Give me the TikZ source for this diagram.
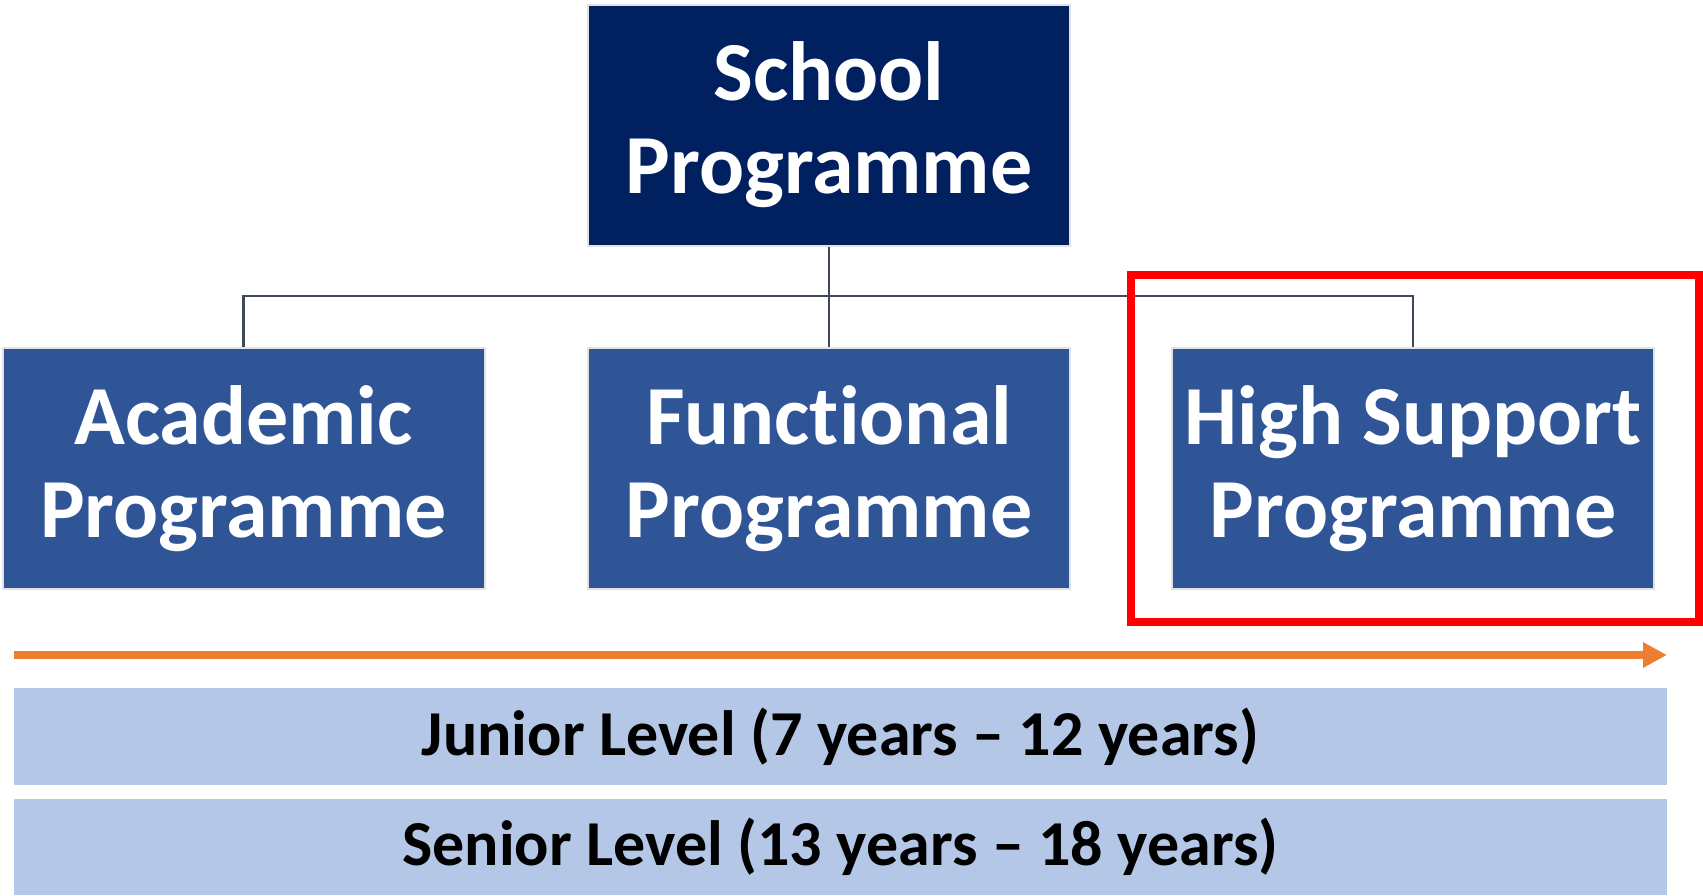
\documentclass[tikz,border=0pt]{standalone}
\usepackage{fontspec}
\setmainfont{Carlito}[Ligatures=NoCommon]
\usetikzlibrary{arrows.meta}

\definecolor{navy}{HTML}{002060}
\definecolor{progblue}{HTML}{2F5597}
\definecolor{levelblue}{HTML}{B4C7E7}
\definecolor{linkgray}{HTML}{3E4A5C}
\definecolor{timeorange}{HTML}{ED7D31}
\definecolor{boxedge}{HTML}{E2E2E2}

\tikzset{
  progbox/.style={draw=boxedge, line width=1pt, fill=progblue, text=white,
    minimum width=241pt, minimum height=120.5pt, inner sep=0pt,
    align=center, font=\bfseries\fontsize{42}{46.5}\selectfont},
  topbox/.style={progbox, fill=navy},
  levelbar/.style={fill=levelblue, minimum width=826.5pt, inner sep=0pt,
    font=\bfseries\fontsize{32}{38}\selectfont},
  link/.style={draw=linkgray, line width=1.25pt},
  timeline/.style={draw=timeorange, line width=4pt,
    -{Triangle[length=12pt,width=12pt]}},
  highlight/.style={draw=red, line width=4pt, minimum width=284pt,
    minimum height=173.5pt, inner sep=0pt}
}

\begin{document}
\begin{tikzpicture}[x=0.5pt,y=-0.5pt]
  \useasboundingbox (0,0) rectangle (1703,895);

  % programme hierarchy
  \node[topbox]  (school)     at (829,125)   {School\\Programme};
  \node[progbox] (academic)   at (243.5,468.5) {Academic\\Programme};
  % the kern keeps t and i as separate glyphs
  \node[progbox] (functional) at (829,468.5) {Funct\kern0pt ional\\Programme};
  \node[progbox] (high)       at (1413,468.5) {High Support\\Programme};

  \coordinate (bus) at (829,296);
  \draw[link] (school.south) -- (functional.north);
  \draw[link] (academic.north) |- (bus) -| (high.north);

  % emphasis frame around the high support programme
  \node[highlight] (frame) at (1415,448.5) {};

  % age progression
  \coordinate (arrowstart) at (14,655);
  \coordinate (arrowend) at (1667,655);
  \draw[timeline] (arrowstart) -- (arrowend);

  \node[levelbar, minimum height=48.5pt] (junior) at (840.5,736.5)
    {Junior Level (7 years – 12 years)};
  \node[levelbar, minimum height=48pt] (senior) at (840.5,847)
    {Senior Level (13 years – 18 years)};
\end{tikzpicture}
\end{document}
